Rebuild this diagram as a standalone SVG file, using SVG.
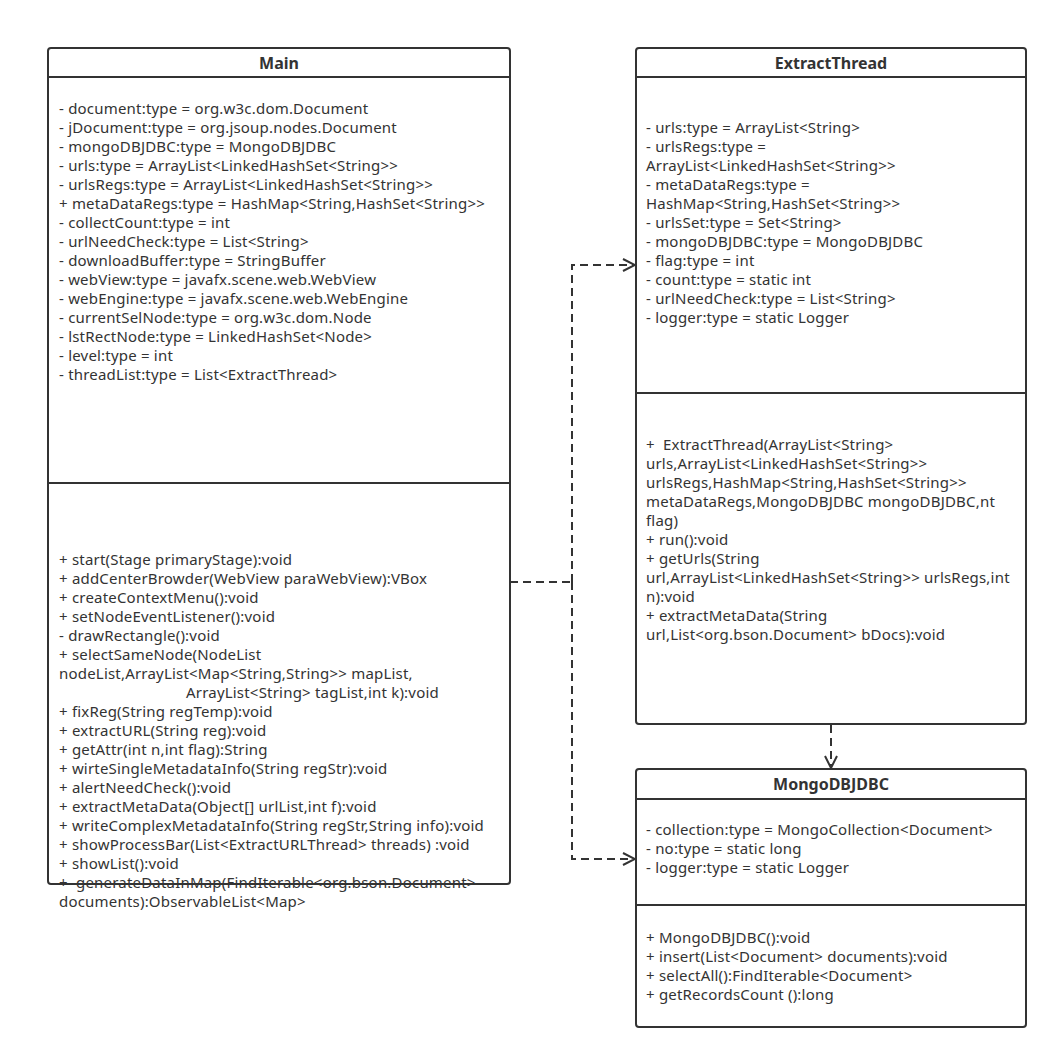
<svg xmlns="http://www.w3.org/2000/svg" width="1058" height="1060" viewBox="0 0 1058 1060">
<style>
.box{fill:#fff;stroke:#333;stroke-width:2}
.ln{stroke:#333;stroke-width:2;fill:none}
.t{font-family:"Noto Sans","Open Sans",sans-serif;font-size:15px;letter-spacing:0.2px;fill:#333}
.h{font-family:"Noto Sans","Open Sans",sans-serif;font-size:16px;font-weight:bold;fill:#333;text-anchor:middle}
.c{stroke:#333;stroke-width:2;fill:none;stroke-dasharray:8 5}
</style>
<defs>
<marker id="arr" markerWidth="14" markerHeight="14" refX="13" refY="7" orient="auto" markerUnits="userSpaceOnUse">
<path d="M1,1 L13,7 L1,13" fill="none" stroke="#333" stroke-width="2"/>
</marker>
</defs>
<rect width="1058" height="1060" fill="#fff"/>
<g id="connectors">
<path class="c" d="M510,582 H572"/>
<path class="c" d="M572,582 V265 H635" marker-end="url(#arr)"/>
<path class="c" d="M572,582 V859 H635" marker-end="url(#arr)"/>
<path class="c" d="M831,725 V768" marker-end="url(#arr)"/>
</g>
<g id="Main">
<rect class="box" x="48" y="48" width="462" height="836" rx="3"/>
<line class="ln" x1="48" y1="77" x2="510" y2="77"/>
<line class="ln" x1="48" y1="483" x2="510" y2="483"/>
<text class="h" x="279" y="69">Main</text>
<text class="t" x="59" y="114">- document:type = org.w3c.dom.Document</text>
<text class="t" x="59" y="133">- jDocument:type = org.jsoup.nodes.Document</text>
<text class="t" x="59" y="152">- mongoDBJDBC:type = MongoDBJDBC</text>
<text class="t" x="59" y="171">- urls:type = ArrayList&lt;LinkedHashSet&lt;String&gt;&gt;</text>
<text class="t" x="59" y="190">- urlsRegs:type = ArrayList&lt;LinkedHashSet&lt;String&gt;&gt;</text>
<text class="t" x="59" y="209">+ metaDataRegs:type = HashMap&lt;String,HashSet&lt;String&gt;&gt;</text>
<text class="t" x="59" y="228">- collectCount:type = int</text>
<text class="t" x="59" y="247">- urlNeedCheck:type = List&lt;String&gt;</text>
<text class="t" x="59" y="266">- downloadBuffer:type = StringBuffer</text>
<text class="t" x="59" y="285">- webView:type = javafx.scene.web.WebView</text>
<text class="t" x="59" y="304">- webEngine:type = javafx.scene.web.WebEngine</text>
<text class="t" x="59" y="323">- currentSelNode:type = org.w3c.dom.Node</text>
<text class="t" x="59" y="342">- lstRectNode:type = LinkedHashSet&lt;Node&gt;</text>
<text class="t" x="59" y="361">- level:type = int</text>
<text class="t" x="59" y="380">- threadList:type = List&lt;ExtractThread&gt;</text>
<text class="t" x="59" y="565">+ start(Stage primaryStage):void</text>
<text class="t" x="59" y="584">+ addCenterBrowder(WebView paraWebView):VBox</text>
<text class="t" x="59" y="603">+ createContextMenu():void</text>
<text class="t" x="59" y="622">+ setNodeEventListener():void</text>
<text class="t" x="59" y="641">- drawRectangle():void</text>
<text class="t" x="59" y="660">+ selectSameNode(NodeList</text>
<text class="t" x="59" y="679">nodeList,ArrayList&lt;Map&lt;String,String&gt;&gt; mapList,</text>
<text class="t" x="186" y="698">ArrayList&lt;String&gt; tagList,int k):void</text>
<text class="t" x="59" y="717">+ fixReg(String regTemp):void</text>
<text class="t" x="59" y="736">+ extractURL(String reg):void</text>
<text class="t" x="59" y="755">+ getAttr(int n,int flag):String</text>
<text class="t" x="59" y="774">+ wirteSingleMetadataInfo(String regStr):void</text>
<text class="t" x="59" y="793">+ alertNeedCheck():void</text>
<text class="t" x="59" y="812">+ extractMetaData(Object[] urlList,int f):void</text>
<text class="t" x="59" y="831">+ writeComplexMetadataInfo(String regStr,String info):void</text>
<text class="t" x="59" y="850">+ showProcessBar(List&lt;ExtractURLThread&gt; threads) :void</text>
<text class="t" x="59" y="869">+ showList():void</text>
<text class="t" x="59" y="888">+ &#160;generateDataInMap(FindIterable&lt;org.bson.Document&gt;</text>
<text class="t" x="59" y="907">documents):ObservableList&lt;Map&gt;</text>
</g>
<g id="ExtractThread">
<rect class="box" x="636" y="48" width="390" height="676" rx="3"/>
<line class="ln" x1="636" y1="77" x2="1026" y2="77"/>
<line class="ln" x1="636" y1="393" x2="1026" y2="393"/>
<text class="h" x="831" y="69">ExtractThread</text>
<text class="t" x="646" y="133">- urls:type = ArrayList&lt;String&gt;</text>
<text class="t" x="646" y="152">- urlsRegs:type =</text>
<text class="t" x="646" y="171">ArrayList&lt;LinkedHashSet&lt;String&gt;&gt;</text>
<text class="t" x="646" y="190">- metaDataRegs:type =</text>
<text class="t" x="646" y="209">HashMap&lt;String,HashSet&lt;String&gt;&gt;</text>
<text class="t" x="646" y="228">- urlsSet:type = Set&lt;String&gt;</text>
<text class="t" x="646" y="247">- mongoDBJDBC:type = MongoDBJDBC</text>
<text class="t" x="646" y="266">- flag:type = int</text>
<text class="t" x="646" y="285">- count:type = static int</text>
<text class="t" x="646" y="304">- urlNeedCheck:type = List&lt;String&gt;</text>
<text class="t" x="646" y="323">- logger:type = static Logger</text>
<text class="t" x="646" y="450">+ &#160;ExtractThread(ArrayList&lt;String&gt;</text>
<text class="t" x="646" y="469">urls,ArrayList&lt;LinkedHashSet&lt;String&gt;&gt;</text>
<text class="t" x="646" y="488">urlsRegs,HashMap&lt;String,HashSet&lt;String&gt;&gt;</text>
<text class="t" x="646" y="507">metaDataRegs,MongoDBJDBC mongoDBJDBC,nt</text>
<text class="t" x="646" y="526">flag)</text>
<text class="t" x="646" y="545">+ run():void</text>
<text class="t" x="646" y="564">+ getUrls(String</text>
<text class="t" x="646" y="583">url,ArrayList&lt;LinkedHashSet&lt;String&gt;&gt; urlsRegs,int</text>
<text class="t" x="646" y="602">n):void</text>
<text class="t" x="646" y="621">+ extractMetaData(String</text>
<text class="t" x="646" y="640">url,List&lt;org.bson.Document&gt; bDocs):void</text>
</g>
<g id="MongoDBJDBC">
<rect class="box" x="636" y="769" width="390" height="258" rx="3"/>
<line class="ln" x1="636" y1="799" x2="1026" y2="799"/>
<line class="ln" x1="636" y1="905" x2="1026" y2="905"/>
<text class="h" x="831" y="790">MongoDBJDBC</text>
<text class="t" x="646" y="835">- collection:type = MongoCollection&lt;Document&gt;</text>
<text class="t" x="646" y="854">- no:type = static long</text>
<text class="t" x="646" y="873">- logger:type = static Logger</text>
<text class="t" x="646" y="943">+ MongoDBJDBC():void</text>
<text class="t" x="646" y="962">+ insert(List&lt;Document&gt; documents):void</text>
<text class="t" x="646" y="981">+ selectAll():FindIterable&lt;Document&gt;</text>
<text class="t" x="646" y="1000">+ getRecordsCount ():long</text>
</g>
</svg>
